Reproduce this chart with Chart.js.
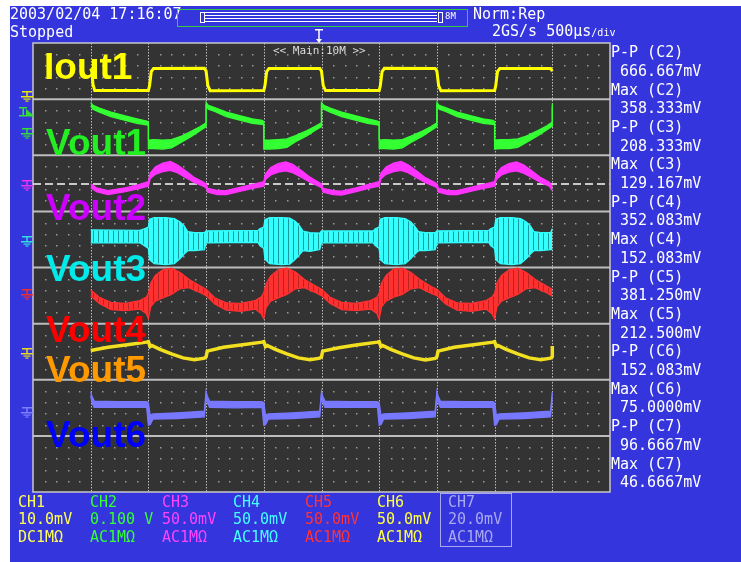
<!DOCTYPE html>
<html>
<head>
<meta charset="utf-8">
<script src="https://cdn.jsdelivr.net/npm/chart.js@4.4.1/dist/chart.umd.min.js"></script>
<style>
  body { margin: 0; background: #ffffff; }
  #screen { position: absolute; left: 10px; top: 6px; width: 731px; height: 556px; background: #3535dd; }
  canvas { position: absolute; left: 0; top: 0; }
  .t { position: absolute; font-family: "DejaVu Sans Mono", monospace; font-size: 15px; line-height: 15px; color: #ffffff; white-space: pre; }
  .lbl { position: absolute; font-family: "Liberation Sans", Arial, sans-serif; font-weight: bold; font-size: 37px; line-height: 37px; white-space: pre; }
  .col { position: absolute; top: 493.7px; font-family: "DejaVu Sans Mono", monospace; font-size: 15px; line-height: 17.5px; white-space: pre; }
  .bar { position: absolute; border: 1px solid #ffffff; }
</style>
</head>
<body>
<div id="screen"></div>
<canvas id="scope" width="741" height="562"></canvas>

<div class="t" style="left:10px;top:6.5px">2003/02/04 17:16:07</div>
<div class="t" style="left:10px;top:25px">Stopped</div>
<div class="t" style="left:473px;top:6.5px">Norm:Rep</div>
<div class="t" style="left:492px;top:24.2px">2GS/s 500µs<span style="font-size:10px">/div</span></div>

<div style="position:absolute;left:177px;top:9px;width:289px;height:16px;border:1px solid #33cc44"></div>
<div class="bar" style="left:200px;top:12px;width:3px;height:9px"></div>
<div class="bar" style="left:205px;top:12px;width:232px;height:2px;border-left:none;border-right:none"></div>
<div class="bar" style="left:205px;top:18px;width:232px;height:2px;border-left:none;border-right:none"></div>
<div class="bar" style="left:438px;top:12px;width:3px;height:9px"></div>
<div class="t" style="left:445px;top:12px;font-size:9px;line-height:9px">8M</div>
<div class="t" style="left:273px;top:45px;font-size:11px;line-height:11px;color:#dddddd">&lt;&lt; Main:10M &gt;&gt;</div>

<div class="lbl" style="left:44px;top:47.7px;color:#ffff00">Iout1</div>
<div class="lbl" style="left:46px;top:123.7px;color:#22ee22">Vout1</div>
<div class="lbl" style="left:46px;top:188.7px;color:#cc00ff">Vout2</div>
<div class="lbl" style="left:46px;top:249.7px;color:#00eaea">Vout3</div>
<div class="lbl" style="left:46px;top:310.7px;color:#ff0000">Vout4</div>
<div class="lbl" style="left:46px;top:350.7px;color:#ff9900">Vout5</div>
<div class="lbl" style="left:46px;top:415.7px;color:#0000ff">Vout6</div>

<div class="t" style="left:611px;top:43.1px;line-height:18.7px">P-P (C2)
 666.667mV
Max (C2)
 358.333mV
P-P (C3)
 208.333mV
Max (C3)
 129.167mV
P-P (C4)
 352.083mV
Max (C4)
 152.083mV
P-P (C5)
 381.250mV
Max (C5)
 212.500mV
P-P (C6)
 152.083mV
Max (C6)
 75.0000mV
P-P (C7)
 96.6667mV
Max (C7)
 46.6667mV</div>

<div class="col" style="left:18px;color:#ffff55">CH1
10.0mV
DC1MΩ</div>
<div class="col" style="left:90px;color:#33ff33">CH2
0.100 V
AC1MΩ</div>
<div class="col" style="left:162px;color:#ff44ff">CH3
50.0mV
AC1MΩ</div>
<div class="col" style="left:233px;color:#44ffff">CH4
50.0mV
AC1MΩ</div>
<div class="col" style="left:305px;color:#ff3333">CH5
50.0mV
AC1MΩ</div>
<div class="col" style="left:377px;color:#ffff44">CH6
50.0mV
AC1MΩ</div>
<div class="col" style="left:448px;color:#a8a8f0">CH7
20.0mV
AC1MΩ</div>
<div style="position:absolute;left:440px;top:493px;width:70px;height:52px;border:1.5px solid #a8a8f0"></div>

<script>
// time in divisions (10 div = 5 ms), level in sub-divisions of each channel zone (5 per zone)
const iout1X = [1.00,1.02,1.04,1.07, 2.00,2.02,2.05,2.09, 2.97,3.00,3.03,3.07, 4.00,4.02,4.05,4.09,
  4.97,5.00,5.03,5.07, 6.00,6.02,6.05,6.09, 6.97,7.00,7.03,7.07, 8.00,8.02,8.05,8.09, 8.97,9.00];
const iout1Y = [2.73,2.45,1.30,0.76, 0.76,1.20,2.45,2.73, 2.74,2.50,1.20,0.75, 0.77,1.20,2.45,2.73,
  2.73,2.50,1.20,0.76, 0.76,1.20,2.45,2.74, 2.73,2.50,1.20,0.75, 0.76,1.20,2.45,2.73, 2.73,2.50];

const vout1X = [1.00,1.04,1.15,1.35,1.60,1.80,1.97,2.00, 2.00,2.10,2.25,2.40,2.55,2.75,2.90,3.00,
  3.00,3.04,3.15,3.35,3.60,3.80,3.97,4.00, 4.00,4.10,4.25,4.40,4.55,4.75,4.90,5.00,
  5.00,5.04,5.15,5.35,5.60,5.80,5.97,6.00, 6.00,6.10,6.25,6.40,6.55,6.75,6.90,7.00,
  7.00,7.04,7.15,7.35,7.60,7.80,7.97,8.00, 8.00,8.10,8.25,8.40,8.55,8.75,8.90,9.00, 9.00];
const vout1Hi = [4.70,4.45,4.20,3.85,3.50,3.25,3.05,2.95, 1.35,1.40,1.35,1.40,1.65,2.15,2.55,2.90,
  4.70,4.45,4.25,3.85,3.50,3.25,3.10,3.00, 1.35,1.35,1.40,1.45,1.75,2.20,2.60,2.90,
  4.70,4.45,4.20,3.85,3.50,3.25,3.05,2.95, 1.35,1.40,1.35,1.40,1.70,2.15,2.55,2.90,
  4.70,4.45,4.25,3.85,3.50,3.25,3.10,3.00, 1.35,1.40,1.40,1.45,1.70,2.20,2.60,2.95, 4.60];
const vout1Lo = [4.40,4.10,3.85,3.45,3.10,2.85,2.70,2.65, 0.60,0.60,0.55,0.65,1.10,1.70,2.20,2.55,
  4.40,4.10,3.90,3.45,3.10,2.85,2.75,2.70, 0.55,0.55,0.60,0.70,1.20,1.75,2.25,2.55,
  4.40,4.10,3.85,3.45,3.10,2.85,2.70,2.65, 0.60,0.60,0.55,0.65,1.15,1.70,2.20,2.55,
  4.40,4.10,3.90,3.45,3.10,2.85,2.75,2.70, 0.55,0.60,0.60,0.70,1.15,1.75,2.25,2.60, 4.30];

const vout2X = [1.00,1.10,1.30,1.60,1.85,2.00,
  2.03,2.12,2.25,2.38,2.50,2.65,2.80,2.95,3.00,3.03,3.20,3.35,3.60,3.85,4.00,
  4.03,4.12,4.25,4.38,4.50,4.65,4.80,4.95,5.00,5.03,5.20,5.35,5.60,5.85,6.00,
  6.03,6.12,6.25,6.38,6.50,6.65,6.80,6.95,7.00,7.03,7.20,7.35,7.60,7.85,8.00,
  8.03,8.12,8.25,8.38,8.50,8.65,8.80,8.95,9.00];
const vout2Hi = [2.45,2.10,1.85,2.10,2.40,2.65,
  3.40,3.95,4.30,4.45,4.15,3.60,3.00,2.60,2.45,2.05,1.85,1.85,2.15,2.45,2.65,
  3.35,3.90,4.25,4.40,4.20,3.65,3.05,2.60,2.45,2.05,1.85,1.80,2.10,2.45,2.65,
  3.40,3.95,4.30,4.45,4.15,3.60,3.00,2.60,2.45,2.05,1.85,1.85,2.15,2.45,2.65,
  3.35,3.90,4.25,4.40,4.15,3.60,3.00,2.60,2.20];
const vout2Lo = [2.10,1.75,1.50,1.75,2.05,2.25,
  2.90,3.30,3.55,3.65,3.45,3.00,2.55,2.25,2.10,1.70,1.50,1.50,1.80,2.10,2.25,
  2.85,3.25,3.50,3.60,3.45,3.05,2.60,2.25,2.10,1.70,1.50,1.45,1.75,2.10,2.25,
  2.90,3.30,3.55,3.65,3.45,3.00,2.55,2.25,2.10,1.70,1.50,1.50,1.80,2.10,2.25,
  2.85,3.25,3.50,3.60,3.40,3.00,2.55,2.25,1.85];

const vout3X = [1.00,1.85,1.93,
  2.00,2.02,2.10,2.30,2.45,2.55,2.62,2.68,2.80,2.97,3.00,3.90,3.93,
  4.00,4.02,4.10,4.30,4.45,4.55,4.62,4.68,4.80,4.97,5.00,5.90,5.93,
  6.00,6.02,6.10,6.30,6.45,6.55,6.62,6.68,6.80,6.97,7.00,7.90,7.93,
  8.00,8.02,8.10,8.30,8.45,8.55,8.62,8.68,8.80,8.97,9.00];
const vout3Hi = [3.35,3.30,3.45,
  3.60,4.30,4.45,4.45,4.35,4.05,3.70,3.20,3.10,3.10,3.25,3.30,3.45,
  3.60,4.25,4.45,4.45,4.40,4.10,3.70,3.25,3.10,3.05,3.25,3.25,3.45,
  3.60,4.30,4.45,4.45,4.35,4.05,3.65,3.20,3.10,3.10,3.25,3.30,3.45,
  3.60,4.30,4.45,4.45,4.35,4.05,3.70,3.20,3.10,3.10,3.45];
const vout3Lo = [2.20,2.20,1.95,
  1.70,0.70,0.35,0.25,0.35,0.80,1.20,1.50,1.50,1.60,2.20,2.25,1.95,
  1.70,0.75,0.35,0.25,0.30,0.75,1.15,1.50,1.45,1.60,2.20,2.20,1.95,
  1.70,0.70,0.35,0.25,0.35,0.80,1.20,1.50,1.50,1.60,2.20,2.25,1.95,
  1.70,0.70,0.35,0.25,0.35,0.80,1.20,1.50,1.50,1.60,1.60];

const vout4X = [1.00,1.15,1.35,1.60,1.85,1.96,2.00,2.04,2.12,2.25,2.40,2.55,2.70,2.90,
  3.00,3.15,3.35,3.60,3.85,3.96,4.00,4.04,4.12,4.25,4.40,4.55,4.70,4.90,
  5.00,5.15,5.35,5.60,5.85,5.96,6.00,6.04,6.12,6.25,6.40,6.55,6.70,6.90,
  7.00,7.15,7.35,7.60,7.85,7.96,8.00,8.04,8.12,8.25,8.40,8.55,8.70,8.90, 9.00];
const vout4Hi = [3.00,2.35,1.90,1.80,2.05,2.35,2.70,3.60,4.30,4.80,4.95,4.55,3.95,3.35,
  3.05,2.30,1.85,1.80,2.05,2.40,2.75,3.55,4.25,4.80,4.95,4.60,3.95,3.35,
  3.05,2.35,1.90,1.80,2.05,2.35,2.70,3.60,4.30,4.85,4.95,4.55,3.95,3.30,
  3.05,2.30,1.85,1.80,2.05,2.40,2.70,3.60,4.30,4.80,4.95,4.55,3.95,3.35, 3.05];
const vout4Lo = [2.45,1.80,1.25,1.15,1.30,0.90,0.45,1.50,2.00,2.30,2.60,3.10,3.20,2.75,
  2.50,1.75,1.20,1.10,1.30,0.85,0.45,1.45,2.00,2.30,2.60,3.10,3.20,2.75,
  2.50,1.80,1.25,1.15,1.30,0.90,0.40,1.50,2.00,2.35,2.60,3.10,3.20,2.70,
  2.50,1.75,1.20,1.10,1.30,0.85,0.45,1.50,2.00,2.30,2.60,3.10,3.20,2.75, 2.45];

const vout5X = [1.00,1.30,1.60,1.97,2.00,2.03,2.06,2.20,2.40,2.60,2.80,2.97,
  3.00,3.02,3.30,3.60,3.97,4.00,4.03,4.06,4.20,4.40,4.60,4.80,4.97,
  5.00,5.02,5.30,5.60,5.97,6.00,6.03,6.06,6.20,6.40,6.60,6.80,6.97,
  7.00,7.02,7.30,7.60,7.97,8.00,8.03,8.06,8.20,8.40,8.60,8.80,8.97, 9.00,9.00];
const vout5Y = [2.60,2.90,3.10,3.35,3.40,2.95,3.05,2.70,2.30,1.95,1.78,1.92,
  2.05,2.55,2.90,3.10,3.35,3.40,2.95,3.05,2.70,2.30,1.95,1.78,1.92,
  2.05,2.55,2.85,3.10,3.35,3.40,2.95,3.05,2.70,2.30,1.95,1.76,1.90,
  2.05,2.55,2.90,3.10,3.35,3.40,2.95,3.05,2.70,2.30,1.95,1.78,1.92, 2.05,3.00];

const vout6X = [1.00,1.02,1.06,1.50,1.97,2.00,2.03,2.08,2.50,2.97,
  3.00,3.02,3.06,3.50,3.97,4.00,4.03,4.08,4.50,4.97,
  5.00,5.02,5.06,5.50,5.97,6.00,6.03,6.08,6.50,6.97,
  7.00,7.02,7.06,7.50,7.97,8.00,8.03,8.08,8.50,8.97, 9.00];
const vout6Hi = [3.95,3.55,3.10,3.05,3.05,2.95,1.85,1.95,2.05,2.20,
  3.95,3.55,3.10,3.05,3.05,2.95,1.85,1.95,2.05,2.20,
  3.95,3.55,3.10,3.05,3.05,2.95,1.85,1.95,2.05,2.20,
  3.95,3.55,3.10,3.05,3.05,2.95,1.85,1.95,2.05,2.20, 3.90];
const vout6Lo = [3.60,3.00,2.55,2.55,2.55,0.95,1.00,1.50,1.55,1.70,
  3.60,3.00,2.55,2.50,2.55,0.95,1.00,1.50,1.55,1.70,
  3.60,3.00,2.55,2.55,2.55,0.95,1.00,1.50,1.55,1.70,
  3.60,3.00,2.55,2.55,2.55,0.95,1.00,1.50,1.55,1.70, 3.50];

// dashed cursor in the CH3 zone, ground marks, trigger
const cursorX = [0, 10];
const cursorLevel = 2.44;
const groundLevels = [0.28, 2.0, 2.35, 2.35, 2.65, 2.4, 2.15];
const triggerLevel = 3.6;
const triggerTime = 4.95;

const zoneCount = 8;

// striped fill, like the sampled noise bands on the screen
function stripes(color, dark) {
  const c = document.createElement('canvas');
  c.width = 5; c.height = 4;
  const g = c.getContext('2d');
  g.fillStyle = color;
  g.fillRect(0, 0, 5, 4);
  g.fillStyle = dark;
  g.fillRect(3, 0, 1, 4);
  return g.createPattern(c, 'repeat');
}

const traces = [
  { zone: 0, color: '#ffff00', x: iout1X, y: iout1Y, width: 3 },
  { zone: 1, color: '#33ff33', x: vout1X, hi: vout1Hi, lo: vout1Lo },
  { zone: 2, color: '#ff33ff', x: vout2X, hi: vout2Hi, lo: vout2Lo },
  { zone: 3, color: '#33ffff', x: vout3X, hi: vout3Hi, lo: vout3Lo, band: stripes('#33ffff', '#1a9a9a') },
  { zone: 4, color: '#ff3030', x: vout4X, hi: vout4Hi, lo: vout4Lo, band: stripes('#ff3030', '#c02020') },
  { zone: 5, color: '#f2e020', x: vout5X, y: vout5Y, width: 3.5 },
  { zone: 6, color: '#7878ff', x: vout6X, hi: vout6Hi, lo: vout6Lo }
];
const groundColors = ['#e8e800', '#33dd33', '#ee33ee', '#33dddd', '#ee3030', '#e8d820', '#8080ff'];

function zoneY(zone, v) {
  return zoneCount - 1 - zone + v / 5;
}

function points(xs, vs, zone) {
  return xs.map((x, i) => ({ x: x, y: zoneY(zone, vs[i]) }));
}

const datasets = [];
traces.forEach(tr => {
  if (tr.y) {
    datasets.push({ data: points(tr.x, tr.y, tr.zone), borderColor: tr.color, borderWidth: tr.width, fill: false });
  } else {
    datasets.push({ data: points(tr.x, tr.hi, tr.zone), borderColor: tr.color, borderWidth: 1.3, fill: false });
    datasets.push({ data: points(tr.x, tr.lo, tr.zone), borderColor: tr.color, borderWidth: 1.3,
      backgroundColor: tr.band || tr.color, fill: '-1' });
  }
});
datasets.push({
  data: cursorX.map(x => ({ x: x, y: zoneY(2, cursorLevel) })),
  borderColor: '#c8c8c8', borderWidth: 2, borderDash: [8, 4], fill: false
});

const graticule = {
  id: 'graticule',
  beforeDatasetsDraw(chart) {
    const { ctx, chartArea: a, scales: { x, y } } = chart;
    ctx.save();
    ctx.fillStyle = '#333333';
    ctx.fillRect(a.left, a.top, a.right - a.left, a.bottom - a.top);
    ctx.fillStyle = '#9a9a9a';
    for (let z = 0; z < zoneCount; z++) {
      for (let r = 1; r < 5; r++) {
        const py = Math.round(y.getPixelForValue(z + r / 5));
        for (let c = 1; c < 50; c++) {
          if (c % 5 === 0) continue;
          ctx.fillRect(Math.round(x.getPixelForValue(c / 5)), py, 1.5, 1.5);
        }
      }
    }
    ctx.fillStyle = '#bbbbbb';
    for (let d = 1; d < 10; d++) {
      const px = Math.round(x.getPixelForValue(d));
      for (let py = a.top; py < a.bottom; py += 3) ctx.fillRect(px, py, 1, 1.5);
    }
    ctx.strokeStyle = '#bdbdbd';
    ctx.lineWidth = 2;
    for (let z = 1; z < zoneCount; z++) {
      const py = y.getPixelForValue(z);
      ctx.beginPath();
      ctx.moveTo(a.left, py);
      ctx.lineTo(a.right, py);
      ctx.stroke();
    }
    ctx.strokeStyle = '#c8c8c8';
    ctx.lineWidth = 1.5;
    ctx.strokeRect(a.left, a.top, a.right - a.left, a.bottom - a.top);
    ctx.restore();
  }
};

const markers = {
  id: 'markers',
  afterDraw(chart) {
    const { ctx, scales: { x, y } } = chart;
    ctx.save();
    groundLevels.forEach((lv, i) => {
      const gy = Math.round(y.getPixelForValue(zoneY(i, lv)));
      const gx = 27;
      ctx.fillStyle = groundColors[i];
      ctx.fillRect(gx - 5, gy - 5, 10, 1.5);
      ctx.fillRect(gx - 0.75, gy - 5, 1.5, 5);
      ctx.fillRect(gx - 6, gy, 12, 1.5);
      ctx.fillRect(gx - 3.5, gy + 2.5, 7, 1.2);
      ctx.fillRect(gx - 1.5, gy + 4.5, 3, 1.2);
    });
    // trigger level on CH2
    const ty = Math.round(y.getPixelForValue(zoneY(1, triggerLevel)));
    ctx.fillStyle = '#33dd33';
    ctx.fillRect(19, ty - 8, 8, 1.5);
    ctx.fillRect(22.5, ty - 8, 1.5, 8);
    ctx.fillRect(19, ty, 14, 1.5);
    ctx.beginPath();
    ctx.moveTo(26, ty - 6);
    ctx.lineTo(33, ty);
    ctx.lineTo(26, ty);
    ctx.closePath();
    ctx.fill();
    // trigger position mark above the graticule
    const tx = Math.round(x.getPixelForValue(triggerTime));
    ctx.fillStyle = '#ffffff';
    ctx.fillRect(tx - 4, 29, 8, 1.5);
    ctx.fillRect(tx - 0.75, 29, 1.5, 10);
    ctx.beginPath();
    ctx.moveTo(tx - 3, 39);
    ctx.lineTo(tx + 3, 39);
    ctx.lineTo(tx, 43);
    ctx.closePath();
    ctx.fill();
    ctx.restore();
  }
};

new Chart(document.getElementById('scope'), {
  type: 'line',
  data: { datasets: datasets },
  options: {
    responsive: false,
    animation: false,
    devicePixelRatio: 1,
    layout: { padding: { left: 33, top: 43, right: 131, bottom: 70 } },
    plugins: { legend: { display: false }, tooltip: { enabled: false } },
    elements: { point: { radius: 0 }, line: { tension: 0 } },
    scales: {
      x: { type: 'linear', min: 0, max: 10, display: false },
      y: { type: 'linear', min: 0, max: zoneCount, display: false }
    }
  },
  plugins: [graticule, markers]
});
</script>
</body>
</html>
